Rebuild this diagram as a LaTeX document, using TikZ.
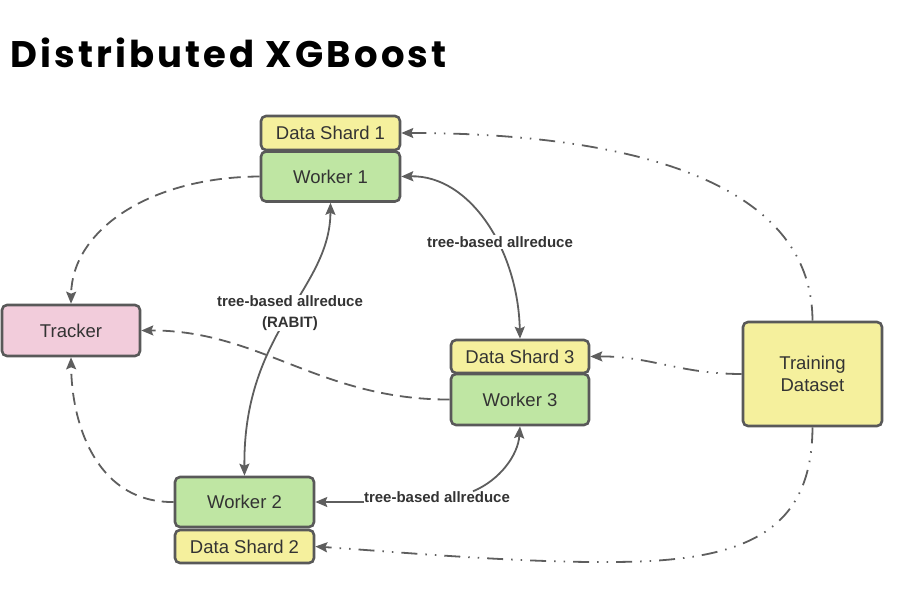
\documentclass[tikz,border=0pt]{standalone}
\usepackage{fontspec}
\setmainfont{Liberation Sans}
\newfontfamily\titlefont{Poppins}[UprightFont=* Bold, LetterSpace=8.5]
\usetikzlibrary{arrows.meta}
\definecolor{lineg}{HTML}{5E5E5E}
\definecolor{edgeg}{HTML}{595959}
\definecolor{shardy}{HTML}{F5F09D}
\definecolor{workg}{HTML}{BFE6A3}
\definecolor{trackp}{HTML}{F2CCDB}
\definecolor{txtg}{HTML}{333333}
\tikzset{
  box/.style={draw=edgeg, line width=2.6pt, rounded corners=5pt, text=txtg,
    font=\fontsize{18.5}{22}\selectfont, inner sep=0pt, align=center},
  shardbox/.style={box, fill=shardy, minimum width=139pt, minimum height=34pt},
  workbox/.style={box, fill=workg, minimum width=139pt, minimum height=50pt},
  lbl/.style={fill=white, inner sep=1pt, text=txtg, font=\bfseries\fontsize{15}{21}\selectfont, align=center},
  conn/.style={draw=lineg, line width=1.8pt},
  tip/.style={-{Stealth[length=12pt,width=10pt,inset=2pt]}},
  dtip/.style={{Stealth[length=12pt,width=10pt,inset=2pt]}-{Stealth[length=12pt,width=10pt,inset=2pt]}},
  dsh/.style={dash pattern=on 12pt off 7pt},
  ddot/.style={dash pattern=on 16pt off 8pt on 1.5pt off 8pt on 1.5pt off 8pt},
}
\begin{document}
\begin{tikzpicture}[x=1pt,y=-1pt]
\useasboundingbox (0,0) rectangle (922,592);
\node[anchor=base west, inner sep=0pt, font=\titlefont\fontsize{37}{40}\selectfont] (title) at (10,67.5) {Distributed XGBoost};

\node[shardbox] (ds1) at (330.5,133) {Data Shard 1};
\node[workbox]  (w1)  at (330.5,176.5) {Worker 1};
\node[box, fill=trackp, minimum width=138pt, minimum height=51pt] (tr) at (71,330.5) {Tracker};
\node[shardbox, minimum width=138pt, minimum height=33pt] (ds3) at (520,356.5) {Data Shard 3};
\node[workbox, minimum width=138pt, minimum height=51pt]  (w3)  at (520,399.5) {Worker 3};
\node[workbox]  (w2)  at (244.5,502) {Worker 2};
\node[shardbox, minimum height=33pt] (ds2) at (244.5,546.5) {Data Shard 2};
\node[box, fill=shardy, minimum width=139pt, minimum height=104pt] (td) at (812.5,374) {Training\\Dataset};

% dashed worker -> tracker
\draw[conn, dsh, tip] (w1.west) .. controls (150,177) and (72,230) .. (tr.north);
\draw[conn, dsh, tip] (w3.west) .. controls (320,400) and (260,330) .. (tr.east);
\draw[conn, dsh, tip] (w2.west) .. controls (100,503) and (72,430) .. (tr.south);

% allreduce
\draw[conn, dtip] (w1.south) .. controls (330,290) and (243,330) .. (w2.north);
\node[lbl] (l1) at (290,313) {tree-based allreduce\\(RABIT)};
\draw[conn, dtip] (w1.east) .. controls (470,175) and (518,250) .. (ds3.north);
\node[lbl] (l2) at (500,242) {tree-based allreduce};
\node[lbl, fill=none, inner sep=0pt] (l3) at (437,497) {tree-based allreduce};
\draw[conn, tip] (l3.west |- w2.east) -- (w2.east);
\draw[conn, tip] ([xshift=36pt]l3.north) .. controls (500,480) and (518,455) .. (w3.south);

% dash-dot dataset -> shards
\draw[conn, ddot, tip] (td.north) .. controls (812,170) and (600,133) .. (ds1.east);
\draw[conn, ddot, tip] (td.west) .. controls (680,374) and (650,356) .. (ds3.east);
\draw[conn, ddot, tip] (td.south) .. controls (812,520) and (760,555) .. (650,561)
   .. controls (550,566) and (400,552) .. (ds2.east);
\end{tikzpicture}
\end{document}
